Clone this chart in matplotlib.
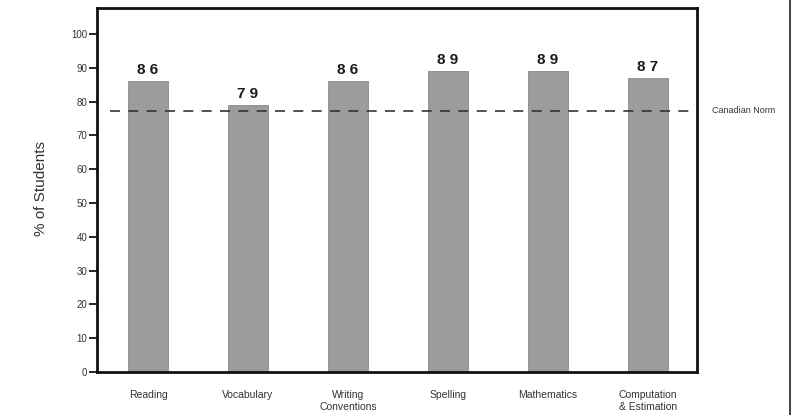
import matplotlib.pyplot as plt

plt.rcParams['font.family'] = ['Liberation Sans', 'DejaVu Sans']

# Porcentaje de alumnos por materia
materias = ['Reading', 'Vocabulary', 'Writing\nConventions', 'Spelling',
            'Mathematics', 'Computation\n& Estimation']
porcentajes = [86, 79, 86, 89, 89, 87]
norma_canadiense = 77.3
ticks_y = [0, 10, 20, 30, 40, 50, 60, 70, 80, 90, 100]

fig = plt.figure(figsize=(7.92, 4.15), dpi=100)
ax = fig.add_axes([0.1225, 0.1036, 0.7575, 0.877])

posiciones = range(len(materias))
ax.bar(posiciones, porcentajes, width=0.4, color='#9c9c9c',
       edgecolor='#8a8a8a', linewidth=0.6, zorder=2)

# Etiquetas de valor sobre cada barra
for x, v in zip(posiciones, porcentajes):
    ax.text(x, v + 1.2, ' '.join(str(v)), ha='center', va='bottom',
            fontsize=11, fontweight='bold', color='#1a1a1a')

# Línea de la norma canadiense
ax.plot([-0.38, 5.49], [norma_canadiense, norma_canadiense],
        linestyle=(0, (6, 5)), color='#333333', linewidth=1.2, zorder=3)
ax.text(5.64, norma_canadiense, 'Canadian Norm', ha='left', va='center',
        fontsize=6.5, color='#333333', clip_on=False)

ax.set_xlim(-0.51, 5.49)
ax.set_ylim(0, 107.7)
ax.set_yticks(ticks_y)
ax.set_xticks(list(posiciones))
ax.set_xticklabels(materias, fontsize=7.5, color='#333333', va='top',
                   linespacing=1.3)
ax.tick_params(axis='x', length=0, pad=13)
ax.tick_params(axis='y', length=6, width=1.2, labelsize=7, labelcolor='#333333',
               direction='out', pad=1)

for lado in ax.spines.values():
    lado.set_linewidth(2.0)
    lado.set_color('#111111')

fig.text(0.052, 0.545, '% of Students', rotation=90, ha='center', va='center',
         fontsize=11, color='#333333')

# Borde de la página a la derecha
fig.add_artist(plt.Line2D([0.9975, 0.9975], [0, 1], color='#222222',
                          linewidth=1.2, transform=fig.transFigure))

fig.savefig('out.png', dpi=100)
